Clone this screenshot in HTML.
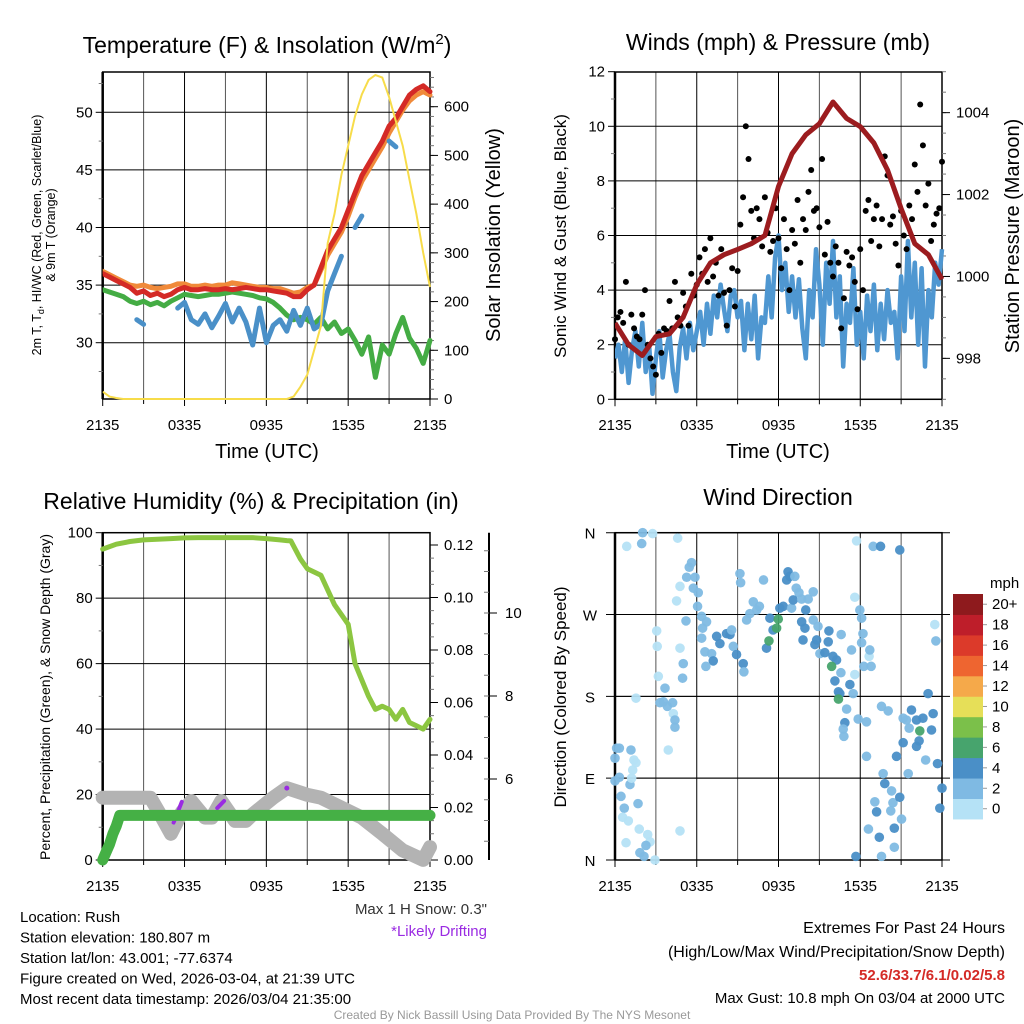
<!DOCTYPE html>
<html><head><meta charset="utf-8"><style>
html,body{margin:0;padding:0;background:#fff}
svg{display:block}
text{font-family:"Liberation Sans",Arial,sans-serif}
</style></head><body>
<svg id="s" width="1024" height="1024" viewBox="0 0 1024 1024" xmlns="http://www.w3.org/2000/svg"></svg>
<script>
// ---------- DATA ----------
const timeTickLabels=['2135','0335','0935','1535','2135'];
const tempRed=[36.0,35.7,35.4,35.1,34.8,34.3,34.5,34.1,34.3,34.0,34.2,34.6,34.8,34.6,34.6,34.7,34.6,34.6,34.7,34.6,34.7,34.8,34.7,34.6,34.6,34.5,34.4,34.3,34.0,34.0,34.6,35.0,36.5,38.0,39.0,40.0,41.5,43.0,44.5,45.5,46.5,47.5,48.8,49.5,50.5,51.5,52.0,52.3,51.8];
const tempOrange=[36.2,35.9,35.6,35.3,35.0,34.9,35.0,34.8,34.7,34.8,34.9,35.1,35.1,34.9,34.9,35.0,34.9,35.0,35.0,35.2,35.1,35.0,34.9,34.8,34.8,34.7,34.7,34.5,34.3,34.4,34.8,35.0,36.3,37.6,38.6,39.6,41.0,42.6,44.0,45.0,46.0,47.0,48.2,49.2,50.2,51.0,51.5,51.8,51.5];
const tempGreen=[34.6,34.4,34.2,34.0,33.6,33.4,33.6,33.3,33.5,33.2,33.6,33.9,34.2,34.1,34.0,34.1,34.2,34.2,34.3,34.4,34.3,34.2,34.1,33.9,33.8,33.5,33.0,32.4,32.0,32.2,32.0,31.6,32.2,31.2,31.8,30.8,31.2,30.2,29.0,30.5,27.0,29.8,29.0,30.8,32.2,30.4,29.5,28.2,30.2];
const tempBlue=[null,null,null,null,null,32.0,31.6,null,null,null,null,33.0,33.5,32.0,31.6,32.5,31.3,32.3,33.4,31.8,33.0,31.8,29.8,33.0,30.0,31.5,32.0,31.0,32.8,31.5,33.0,31.2,31.6,34.5,36.0,37.5,null,40.0,41.0,null,43.5,null,47.5,47.0,null,null,50.0,null,50.8];
const insolation=[15,5,2,0,0,0,0,0,0,0,0,0,0,0,0,0,0,0,0,0,0,0,0,0,0,0,0,0,5,25,50,100,150,320,380,460,520,580,625,655,665,660,620,570,520,450,380,300,230];
const tempTicks=[30,35,40,45,50];
const insolTicks=[0,100,200,300,400,500,600];
const sonicWind=[1.5,2.0,1.0,2.2,0.6,1.8,2.5,1.2,2.8,1.0,2.0,0.2,1.5,2.5,0.8,1.8,2.4,1.0,0.3,1.9,2.6,1.5,2.8,1.8,2.5,3.2,2.0,3.5,2.4,3.8,3.0,4.2,3.3,2.5,3.8,4.0,3.0,3.6,1.8,3.5,2.2,3.8,1.5,3.0,2.8,4.5,3.0,5.2,6.0,4.0,5.0,3.2,4.5,3.0,4.4,2.6,1.5,4.0,3.0,5.5,4.2,2.0,5.0,3.5,5.8,3.0,4.5,1.2,3.5,2.8,4.8,2.0,3.2,1.5,3.8,2.5,4.2,1.8,3.5,2.2,4.0,2.8,3.2,1.5,4.5,2.5,5.8,3.0,5.0,2.0,4.8,1.2,4.0,3.0,5.0,4.2,5.5];
const gusts=[2.2,3.0,3.2,2.8,4.3,2.0,3.1,2.6,2.3,2.2,3.1,4.0,2.0,1.5,1.2,0.9,2.4,1.7,2.6,2.5,3.6,2.6,4.3,3.0,2.7,3.9,3.4,2.7,4.6,3.8,4.2,5.2,4.6,5.5,4.3,5.9,4.5,5.0,3.8,5.5,3.9,2.7,4.0,4.8,3.4,4.7,6.4,7.4,10.0,8.8,6.9,5.9,7.0,6.6,5.6,7.4,6.1,5.4,5.8,7.0,5.9,4.8,6.6,5.5,4.0,6.2,5.7,7.3,5.0,6.6,6.2,7.6,8.4,6.9,7.0,6.3,8.8,5.3,6.5,5.0,4.5,5.6,5.0,2.6,3.7,5.4,4.9,5.2,4.3,3.3,5.5,4.0,6.9,7.3,5.8,6.6,7.1,5.6,6.6,8.9,8.2,6.4,6.7,5.7,4.9,6.9,6.0,5.5,7.1,6.6,8.6,7.6,10.8,9.3,7.1,7.9,5.8,6.4,6.8,7.0,8.7];
const pressure=[998.86,998.33,998.07,998.53,998.6,999.0,999.8,1000.33,1000.53,1000.66,1000.8,1001.0,1002.2,1003.0,1003.46,1003.73,1004.26,1003.86,1003.66,1003.26,1002.6,1001.66,1000.8,1000.53,999.93];
const windTicks=[0,2,4,6,8,10,12];
const pressTicks=[998,1000,1002,1004];
const rhTimes=[0,1,2,3,4,5,6,7,8,9,10,11,12,12.5,13,13.5,13.8,14.5,15,15.5,16,17,18,18.5,19,19.5,20,20.5,21,21.5,22,22.5,23,23.5,24];
const rh=[95,96.5,97.3,97.8,98,98.2,98.4,98.5,98.5,98.5,98.5,98.5,98.2,98,97.8,97.6,97.5,92,89,88,87,78,72,60,55,50,46,47,46,43,46,42,41,40,43];
const precipTimes=[0,0.25,0.5,0.75,1,1.25,24];
const precip=[0,0.003,0.006,0.01,0.013,0.017,0.017];
const snowTimes=[0,3.5,4.3,5.0,5.8,6.5,7.5,8.0,8.7,9.7,10.5,11.0,12.5,13.5,15.0,16.0,19.0,20.5,22.0,23.5,24];
const snowDepth=[5.55,5.55,5.1,4.68,5.2,5.47,5.07,5.07,5.47,4.99,4.99,5.15,5.55,5.78,5.62,5.55,5.07,4.68,4.28,4.05,4.36];
const pctTicks=[0,20,40,60,80,100];
const precipTicks=[0,0.02,0.04,0.06,0.08,0.10,0.12];
const snowTicks=[6,8,10];
const wdTime=[0.86,2.03,1.96,2.76,4.6,5.45,5.62,5.26,5.87,4.77,5.75,6.11,4.52,6.06,5.21,6.36,6.72,6.43,6.36,7.46,7.7,8.19,8.44,8.56,6.6,7.09,7.21,6.67,3.06,3.1,3.18,3.67,3.55,3.3,3.84,4.23,4.28,3.91,4.4,4.4,5.01,4.96,4.77,4.77,1.54,0.12,0.32,1.17,0,0.32,0,1.1,1.22,1.39,1.3,1.54,0.44,0.68,0.56,0.98,1.69,1.78,2.4,2.57,2.27,2.13,1.83,2.93,0.81,8.68,8.92,9.41,9.46,9.17,9.22,10.15,9.66,9.9,10.4,10.6,10.9,11.37,11.6,11.12,11.3,11.86,11.98,12.1,12.35,12.6,12.7,12.84,13.2,12.96,13.3,13.5,13.08,13.7,14.0,14.18,14.55,13.7,13.94,13.8,14.55,14.9,14.67,14.8,15.04,15.4,15.7,15.65,16.0,16.26,15.9,16.6,16.58,16.14,16.4,16.5,16.4,17.24,17.36,17.48,17.6,17.0,16.87,16.75,16.8,17.73,17.6,17.97,18.1,18.2,18.1,18.65,18.7,18.26,18.8,17.85,18.46,18.46,19.56,20.05,18.95,19.49,20.9,19.07,19.2,19.4,19.56,19.68,19.8,20.3,20.4,20.24,20.5,20.5,18.6,17.68,20.66,20.9,21.03,21.15,21.39,21.76,22.13,22.6,22.98,23.35,23.23,22.37,22.32,22.13,21.59,21.15,21.52,22.8,23.47,23.55,23.67,24.0,23.84];
const wdDir=[345,360,348,359,354,322,327,311,311,301,299,294,285,279,263,268,262,255,244,246,238,249,248,253,229,227,219,213,252,235,202,189,174,173,169,173,161,121,154,146,216,200,233,32,178,123,123,121,112,91,87,83,90,110,99,107,70,57,47,43,62,34,28,20,16,4,8,0,19,235,226,216,207,315,305,284,264,271,275,279,308,266,253,233,241,255,265,277,279,308,317,312,312,277,299,294,286,287,275,287,295,262,255,242,264,257,237,242,227,228,252,240,224,220,213,248,206,197,185,183,177,193,231,183,204,166,151,144,136,351,289,275,266,249,239,224,231,213,213,155,152,114,169,164,345,345,341,64,53,25,4,95,84,76,63,54,35,14,34,4,114,69,45,156,154,165,154,156,183,161,143,142,131,125,145,129,95,110,259,241,106,79,57];
const wdSpeed=[1,3,3,1,1,3,3,3,3,1,3,3,1,3,3,3,3,3,3,4.5,4.5,4.5,4.5,3,3,3,4.5,3,1,1,1,3,3,3,3,3,1,1,3,3,3,3,1,1,1,3,3,3,3,3,3,3,1,1,1,1,3,3,1,1,3,1,1,1,3,3,3,1,1,3,4.5,4.5,3,3,3,3,3,3,3,3,3,4.5,4.5,4.5,6.5,6.5,6.5,4.5,4.5,4.5,4.5,4.5,3,3,3,3,4.5,3,4.5,3,3,4.5,4.5,4.5,3,3,4.5,4.5,3,4.5,4.5,4.5,4.5,4.5,6.5,3,3,4.5,4.5,4.5,6.5,4.5,3,3,1,3,4.5,3,3,1,1,3,3,3,3,1,3,3,3,3,3,3,3,3,3,4.5,4.5,3,4.5,4.5,3,3,4.5,3,3,3,4.5,3,3,4.5,4.5,4.5,3,3,3,4.5,4.5,4.5,4.5,4.5,4.5,6.5,4.5,4.5,3,4.5,3,3,1,3,4.5,4.5,4.5];
const dirTicks=['N','E','S','W','N'];
const legendLabels=['0','2','4','6','8','10','12','14','16','18','20+'];
const legendColors=['#b5e2f6','#7fbae3','#4a8fc7','#47a46d','#7bc04a','#e6df58','#f5a94a','#ee6530','#dc3a2a','#be1e2a','#8e1a1d'];

// ---------- HELPERS ----------
const NS='http://www.w3.org/2000/svg';
const svg=document.getElementById('s');
function mk(tag,attrs,parent){const e=document.createElementNS(NS,tag);for(const k in attrs)e.setAttribute(k,attrs[k]);(parent||svg).appendChild(e);return e;}
function txt(x,y,s,size,anchor,parent,extra){const e=mk('text',Object.assign({x:x,y:y,'font-size':size,'text-anchor':anchor||'middle',fill:'#000'},extra||{}),parent);e.textContent=s;return e;}
function lin(d0,d1,r0,r1){return v=>r0+(v-d0)/(d1-d0)*(r1-r0);}
function pathFrom(xs,ys){let d='',pen=false;for(let i=0;i<xs.length;i++){if(ys[i]===null||ys[i]===undefined){pen=false;continue;}d+=(pen?'L':'M')+xs[i].toFixed(1)+' '+ys[i].toFixed(1);pen=true;}return d;}
function evenTimes(n){const a=[];for(let i=0;i<n;i++)a.push(i*24/(n-1));return a;}

function frame(P,g,labelY,gridYs){
  for(let h=3;h<24;h+=3){const x=P.xs(h);
    const l=mk('line',{x1:x,x2:x,y1:P.y0,y2:P.y1,stroke:h%6===0?'#000':'#555','stroke-width':1},g);
    }
  gridYs.forEach(y=>{const l=mk('line',{x1:P.x0,x2:P.x1,y1:y,y2:y,stroke:'#000','stroke-width':1},g);
    });
  for(let h=0;h<=24;h+=3){const x=P.xs(h);mk('line',{x1:x,x2:x,y1:P.y1,y2:P.y1+(h%6===0?7:5),stroke:'#000'},g);}
  timeTickLabels.forEach((s,i)=>{const t=txt(P.xs(i*6),labelY,s,15,'middle',g);
    });
  const b=mk('rect',{x:P.x0,y:P.y0,width:P.x1-P.x0,height:P.y1-P.y0,fill:'none',stroke:'#000','stroke-width':1.5},g);
  
  mk('line',{x1:P.x0,x2:P.x0,y1:P.y0,y2:P.y1,stroke:'#000','stroke-width':2.5},g);
}
function leftTicks(P,g,vals,scale,fmt){vals.forEach(v=>{const y=scale(v);mk('line',{x1:P.x0-7,x2:P.x0,y1:y,y2:y,stroke:'#000'},g);
  const t=txt(P.x0-10,y+5,fmt?fmt(v):String(v),15,'end',g);});}
function rightTicks(P,g,vals,scale,fmt,minorStep){
  if(minorStep){const lo=Math.min(...vals)-4*minorStep,hi=Math.max(...vals)+4*minorStep;for(let v=lo;v<=hi+1e-9;v+=minorStep){const y=scale(v);if(y<P.y0-0.5||y>P.y1+0.5)continue;mk('line',{x1:P.x1,x2:P.x1+4,y1:y,y2:y,stroke:'#777'},g);}}
  vals.forEach(v=>{const y=scale(v);mk('line',{x1:P.x1,x2:P.x1+8,y1:y,y2:y,stroke:'#000'},g);
  const t=txt(P.x1+14,y+5,fmt?fmt(v):String(v),15,'start',g);});}

// ---------- PANEL 1 ----------
(function(){
const g=mk('g',{});
const P={x0:102.7,x1:430,y0:72,y1:399};P.xs=lin(0,24,P.x0,P.x1);
const ys=lin(30,50,342.7,112.3);const yr=lin(0,600,399,106.7);
frame(P,g,430,tempTicks.map(ys));
for(let v=27.5;v<=52.5;v+=5){const y=ys(v);mk('line',{x1:P.x0-4,x2:P.x0,y1:y,y2:y,stroke:'#777'},g);}
leftTicks(P,g,tempTicks,ys);
rightTicks(P,g,insolTicks,yr,null,20);
const tt=evenTimes(49);
const clip=mk('clipPath',{id:'c1'},g);mk('rect',{x:P.x0,y:P.y0-3,width:P.x1-P.x0+4,height:P.y1-P.y0+4},clip);
const series=[['temp-orange-line',tempOrange,'#f08a3a'],['temp-green-line',tempGreen,'#44ac44'],['temp-red-line',tempRed,'#d42a26'],['temp-blue-line',tempBlue,'#4a90c8']];
series.forEach(s=>{const p=mk('path',{d:pathFrom(tt.map(P.xs),s[1].map(v=>v===null?null:ys(v))),fill:'none',stroke:s[2],'stroke-width':5,'stroke-linejoin':'round','stroke-linecap':'round','clip-path':'url(#c1)'},g);
  });
const ins=mk('path',{d:pathFrom(tt.map(P.xs),insolation.map(yr)),fill:'none',stroke:'#f7dc4a','stroke-width':2,'clip-path':'url(#c1)'},g);

const ti=txt(267,53,'',23,'middle',g);ti.innerHTML='Temperature (F) &amp; Insolation (W/m<tspan font-size="15" dy="-9">2</tspan><tspan dy="9">)</tspan>';

const xl=txt(267,458,'Time (UTC)',20,'middle',g);
const l1=txt(0,0,'',12.5,'middle',g,{transform:'translate(41,235) rotate(-90)'});l1.innerHTML='2m T, T<tspan font-size="9" dy="3">d</tspan><tspan dy="-3">, HI/WC (Red, Green, Scarlet/Blue)</tspan>';

const l2=txt(0,0,'& 9m T (Orange)',12.5,'middle',g,{transform:'translate(55,235) rotate(-90)'});
const r1=txt(0,0,'Solar Insolation (Yellow)',20,'middle',g,{transform:'translate(500,235) rotate(-90)'});
})();

// ---------- PANEL 2 ----------
(function(){
const g=mk('g',{});
const P={x0:615,x1:942,y0:72,y1:399.3};P.xs=lin(0,24,P.x0,P.x1);
const ys=lin(0,12,399.3,71.7);const yp=lin(997,1005,399.3,71.7);
frame(P,g,430,[2,4,6,8,10].map(ys));
for(let v=1;v<12;v+=2){const y=ys(v);mk('line',{x1:P.x0-4,x2:P.x0,y1:y,y2:y,stroke:'#777'},g);}
leftTicks(P,g,windTicks,ys);
rightTicks(P,g,pressTicks,yp,v=>String(v),0.5);
const clip=mk('clipPath',{id:'c2'},g);mk('rect',{x:P.x0,y:P.y0-3,width:P.x1-P.x0+4,height:P.y1-P.y0+4},clip);
const tw=evenTimes(sonicWind.length);
const w=mk('path',{d:pathFrom(tw.map(P.xs),sonicWind.map(ys)),fill:'none',stroke:'#4f97d1','stroke-width':4.5,'stroke-linejoin':'round','clip-path':'url(#c2)'},g);

const tg=evenTimes(gusts.length);
gusts.forEach((v,i)=>{if(v===null)return;const c=mk('circle',{cx:P.xs(tg[i]),cy:ys(v),r:3,fill:'#000'},g);
  });
const tp=evenTimes(pressure.length);
const p=mk('path',{d:pathFrom(tp.map(P.xs),pressure.map(yp)),fill:'none',stroke:'#9c1c1f','stroke-width':5,'stroke-linejoin':'round','clip-path':'url(#c2)'},g);

const ti=txt(778,50,'Winds (mph) & Pressure (mb)',23,'middle',g);
const xl=txt(778,458,'Time (UTC)',20,'middle',g);
const l1=txt(0,0,'Sonic Wind & Gust (Blue, Black)',17,'middle',g,{transform:'translate(566,236) rotate(-90)'});
const r1=txt(0,0,'Station Pressure (Maroon)',20,'middle',g,{transform:'translate(1019,236) rotate(-90)'});
})();

// ---------- PANEL 3 ----------
(function(){
const g=mk('g',{});
const P={x0:102.7,x1:430,y0:532.7,y1:860};P.xs=lin(0,24,P.x0,P.x1);
const ys=lin(0,100,860,532.7);const yr=lin(0,0.12,860,545);const ysn=lin(6,10,779,613);
frame(P,g,891,[20,40,60,80].map(ys));
for(let v=10;v<100;v+=20){const y=ys(v);mk('line',{x1:P.x0-4,x2:P.x0,y1:y,y2:y,stroke:'#777'},g);}
leftTicks(P,g,pctTicks,ys);
rightTicks(P,g,precipTicks,yr,v=>v.toFixed(2),0.005);
const sa=mk('line',{x1:489,x2:489,y1:532.7,y2:860,stroke:'#000','stroke-width':2},g);
for(let v=4.5;v<12;v+=0.5){const y=ysn(v);if(y<533||y>860)continue;mk('line',{x1:484,x2:489,y1:y,y2:y,stroke:'#777'},g);}
snowTicks.forEach(v=>{const y=ysn(v);mk('line',{x1:489,x2:497,y1:y,y2:y,stroke:'#000'},g);
  const t=txt(505,y+5,String(v),15,'start',g);});
const clip=mk('clipPath',{id:'c3'},g);mk('rect',{x:P.x0-8,y:P.y0-3,width:P.x1-P.x0+16,height:P.y1-P.y0+12},clip);
const s=mk('path',{d:pathFrom(snowTimes.map(P.xs),snowDepth.map(ysn)),fill:'none',stroke:'#b3b3b3','stroke-width':14,'stroke-linejoin':'round','stroke-linecap':'round','clip-path':'url(#c3)'},g);

const dr=[[5.2,5.8,4.95,5.45],[8.4,8.9,5.3,5.47]];
dr.forEach(d=>{const e=mk('line',{x1:P.xs(d[0]),x2:P.xs(d[1]),y1:ysn(d[2]),y2:ysn(d[3]),stroke:'#9a2be2','stroke-width':4,'stroke-linecap':'round'},g);
  });
const dd=mk('circle',{cx:P.xs(13.5),cy:ysn(5.78),r:2.5,fill:'#9a2be2'},g);
const pr=mk('path',{d:pathFrom(precipTimes.map(P.xs),precip.map(yr)),fill:'none',stroke:'#45b045','stroke-width':11,'stroke-linejoin':'round','stroke-linecap':'round','clip-path':'url(#c3)'},g);

const rl=mk('path',{d:pathFrom(rhTimes.map(P.xs),rh.map(ys)),fill:'none',stroke:'#8cc641','stroke-width':5,'stroke-linejoin':'round','stroke-linecap':'round'},g);

const ti=txt(251,509,'Relative Humidity (%) & Precipitation (in)',23,'middle',g);
const l1=txt(0,0,'Percent, Precipitation (Green), & Snow Depth (Gray)',14,'middle',g,{transform:'translate(50,697) rotate(-90)'});
})();

// ---------- PANEL 4 ----------
(function(){
const g=mk('g',{});
const P={x0:615,x1:942,y0:532.7,y1:860};P.xs=lin(0,24,P.x0,P.x1);
const yd=lin(0,360,860,532.7);
frame(P,g,891,[90,180,270].map(yd));
dirTicks.forEach((s,i)=>{const y=yd(i*90);mk('line',{x1:P.x0-9,x2:P.x1+8,y1:y,y2:y,stroke:'#000'},g);
  const t=txt(590,y+6,s,15,'middle',g);});
function col(sp){const i=Math.min(10,Math.floor(sp/2));return legendColors[i];}
wdTime.forEach((t,i)=>{const c=mk('circle',{cx:P.xs(t),cy:yd(wdDir[i]),r:4.8,fill:col(wdSpeed[i]),'fill-opacity':0.95},g);
  });
const ti=txt(778,505,'Wind Direction',23,'middle',g);
const l1=txt(0,0,'Direction (Colored By Speed)',17,'middle',g,{transform:'translate(566,697) rotate(-90)'});
const lg=mk('g',{},g);
const bh=20.45,ly0=594;
legendColors.forEach((c,i)=>{const y=ly0+(10-i)*bh;const r=mk('rect',{x:953,y:y,width:30,height:bh+0.5,fill:c},lg);
  
  mk('line',{x1:983,x2:987,y1:y+bh/2,y2:y+bh/2,stroke:'#999'},lg);
  const t=txt(992,y+bh/2+5,legendLabels[i],15,'start',lg);});
const u=txt(990,588,'mph',15,'start',lg);
})();

// ---------- FOOTER ----------
(function(){
const g=mk('g',{});
const left=['Location: Rush','Station elevation: 180.807 m','Station lat/lon: 43.001; -77.6374','Figure created on Wed, 2026-03-04, at 21:39 UTC','Most recent data timestamp: 2026/03/04 21:35:00'];
left.forEach((s,i)=>{const t=txt(20,922+i*20.5,s,15,'start',g);});
const a=txt(487,914,'Max 1 H Snow: 0.3"',15,'end',g,{fill:'#333'});
const b=txt(487,936,'*Likely Drifting',15,'end',g,{fill:'#9a2be2'});
const r=[['Extremes For Past 24 Hours','#000','normal',933,16],['(High/Low/Max Wind/Precipitation/Snow Depth)','#000','normal',957,16],['52.6/33.7/6.1/0.02/5.8','#d42a26','bold',980,15],['Max Gust: 10.8 mph On 03/04 at 2000 UTC','#000','normal',1003,15]];
r.forEach(s=>{const t=txt(1005,s[3],s[0],s[4],'end',g,{fill:s[1],'font-weight':s[2]});});
const f=txt(512,1019,'Created By Nick Bassill Using Data Provided By The NYS Mesonet',12,'middle',g,{fill:'#999'});
})();
</script>
</body></html>
